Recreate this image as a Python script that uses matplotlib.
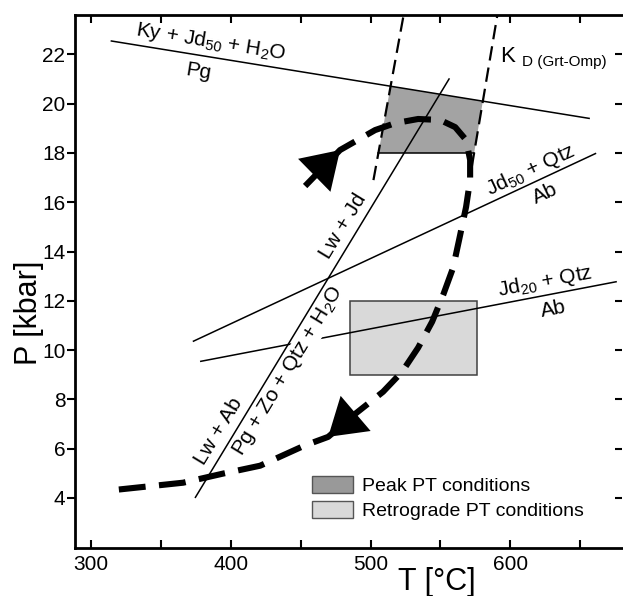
import numpy as np
import matplotlib
matplotlib.use("Agg")
import matplotlib.pyplot as plt
from matplotlib.patches import Polygon, Rectangle, Patch

plt.rcParams['font.family'] = ['Liberation Sans', 'DejaVu Sans']
plt.rcParams['mathtext.fontset'] = 'custom'
plt.rcParams['mathtext.rm'] = 'Liberation Sans'
plt.rcParams['mathtext.it'] = 'Liberation Sans:italic'
plt.rcParams['mathtext.bf'] = 'Liberation Sans:bold'

# ---------------- data ----------------
# reaction lines (T in degC, P in kbar)
ky_T = [314.0, 657.0]
ky_P = [22.55, 19.40]
lwjd_T = [374.4, 556.5]
lwjd_P = [4.00, 21.03]
jd50_T = [372.8, 661.5]
jd50_P = [10.35, 17.99]
jd20_T = [378.0, 676.3]
jd20_P = [9.54, 12.78]
# KD (Grt-Omp) isopleths
kdL_T = [502.1, 523.7]
kdL_P = [16.90, 23.60]
kdR_T = [572.5, 590.8]
kdR_P = [17.44, 23.60]
# peak PT field lower limit
peak_Pmin = 18.0
# retrograde PT field
retro_T = [485.0, 576.0]
retro_P = [9.0, 12.0]
# PT path
path_T = [453.2, 478.2, 503.3, 517.6, 534.1, 549.8, 560.6, 568.4, 571.3, 571.3,
          568.4, 563.4, 559.1, 552.0, 544.1, 534.1, 522.6, 509.0, 488.3, 469.7,
          452.5, 421.0, 394.5, 365.9, 319.3]
path_P = [16.66, 18.12, 18.93, 19.21, 19.38, 19.34, 19.05, 18.53, 17.72, 16.91,
          15.81, 14.47, 13.34, 12.24, 11.15, 10.10, 9.12, 8.31, 7.38, 6.48,
          6.12, 5.31, 4.99, 4.62, 4.34]
# arrows (base -> tip)
arrow_up = [(459.3, 17.07), (478.2, 18.12)]
arrow_down = [(488.3, 7.38), (469.7, 6.48)]

x_ticks = [300, 350, 400, 450, 500, 550, 600, 650]
x_ticklabels = ['300', '', '400', '', '500', '', '600', '']
y_ticks = [4, 6, 8, 10, 12, 14, 16, 18, 20, 22]

# ---------------- figure ----------------
W, H = 623, 596
fig = plt.figure(figsize=(W / 100, H / 100), dpi=100)
ax = fig.add_axes([75 / W, 1 - 548 / H, (622 - 75) / W, (548 - 15) / H])
ax.set_xlim(288.5, 680.0)
ax.set_ylim(1.97, 23.6)

def intersect(a_T, a_P, b_T, b_P):
    # intersection of two straight lines given by two points each
    p = np.array([a_T[0], a_P[0]]); r = np.array([a_T[1] - a_T[0], a_P[1] - a_P[0]])
    q = np.array([b_T[0], b_P[0]]); s = np.array([b_T[1] - b_T[0], b_P[1] - b_P[0]])
    t = np.cross(q - p, s) / np.cross(r, s)
    return p + t * r

def at_P(l_T, l_P, P):
    return l_T[0] + (P - l_P[0]) * (l_T[1] - l_T[0]) / (l_P[1] - l_P[0])

# peak field polygon bounded by KD lines, Ky line and P minimum
tl = intersect(kdL_T, kdL_P, ky_T, ky_P)
tr = intersect(kdR_T, kdR_P, ky_T, ky_P)
bl = (at_P(kdL_T, kdL_P, peak_Pmin), peak_Pmin)
br = (at_P(kdR_T, kdR_P, peak_Pmin), peak_Pmin)
peak_color = '#a3a3a3'
retro_color = '#d9d9d9'
ax.add_patch(Polygon([tl, tr, br, bl], closed=True, facecolor=peak_color,
                     edgecolor='none', zorder=1))
ax.plot([bl[0], br[0]], [bl[1], br[1]], color='black', lw=1.1, zorder=2)
ax.add_patch(Rectangle((retro_T[0], retro_P[0]), retro_T[1] - retro_T[0],
                       retro_P[1] - retro_P[0], facecolor=retro_color,
                       edgecolor='#404040', lw=1.1, zorder=1))

thin = dict(color='black', lw=1.1, zorder=3, solid_capstyle='butt')
for lt, lp in [(ky_T, ky_P), (lwjd_T, lwjd_P), (jd50_T, jd50_P), (jd20_T, jd20_P)]:
    ax.plot(lt, lp, **thin)
for lt, lp in [(kdL_T, kdL_P), (kdR_T, kdR_P)]:
    ax.plot(lt, lp, color='black', lw=1.6, ls=(0, (6.5, 3.2)), zorder=3)

# PT path
ax.plot(path_T, path_P, color='black', lw=4.4, ls=(0, (4.4, 2.2)), zorder=4,
        dash_capstyle='butt')
for base, tip in [arrow_up, arrow_down]:
    ax.annotate('', xy=tip, xytext=base,
                arrowprops=dict(arrowstyle='-|>,head_length=0.5,head_width=0.32',
                                mutation_scale=52, color='black', lw=0,
                                shrinkA=0, shrinkB=0), zorder=5)

def ang(lt, lp):
    return np.degrees(np.arctan2(lp[1] - lp[0], lt[1] - lt[0]))

fs = 15
def label(T, P, s, lt, lp, bg=False, size=fs):
    kw = {}
    if bg:
        kw['bbox'] = dict(facecolor='white', edgecolor='none', pad=0.5)
    ax.text(T, P, s, rotation=ang(lt, lp), transform_rotates_text=True,
            rotation_mode='anchor', ha='center', va='center', fontsize=size,
            zorder=6, **kw)

label(385.9, 22.50, r'Ky + Jd$_{50}$ + H$_2$O', ky_T, ky_P)
label(376.6, 21.28, 'Pg', ky_T, ky_P)
label(480.4, 15.02, 'Lw + Jd', lwjd_T, lwjd_P)
label(391.6, 6.69, 'Lw + Ab', lwjd_T, lwjd_P)
label(441.0, 9.16, r'Pg + Zo + Qtz + H$_2$O', lwjd_T, lwjd_P, bg=True)
label(615.0, 17.31, r'Jd$_{50}$ + Qtz', jd50_T, jd50_P)
label(625.0, 16.33, 'Ab', jd50_T, jd50_P)
label(625.0, 12.78, r'Jd$_{20}$ + Qtz', jd20_T, jd20_P)
label(630.7, 11.68, 'Ab', jd20_T, jd20_P)

ax.text(592.8, 21.69, 'K', fontsize=16, ha='left', va='baseline', zorder=6)
ax.text(608.5, 21.52, 'D (Grt-Omp)', fontsize=11, ha='left', va='baseline', zorder=6)

# axes styling
for side in ['top', 'bottom', 'left']:
    ax.spines[side].set_linewidth(2.0)
ax.spines['right'].set_visible(False)
ax.set_xticks(x_ticks)
ax.set_xticklabels(x_ticklabels)
ax.set_yticks(y_ticks)
ax.tick_params(axis='x', which='both', direction='in', top=True, bottom=True,
               length=6, width=1.5, labelsize=15, pad=5)
ax.tick_params(axis='y', which='both', direction='out', left=True, right=False,
               length=5.5, width=1.5, labelsize=15, pad=1.5)
sec = ax.secondary_yaxis('right')
sec.set_yticks(y_ticks)
sec.set_yticklabels([])
sec.tick_params(direction='in', length=5, width=1.5)
sec.spines['right'].set_visible(False)

ax.text(0.662, -0.078, 'T [°C]', transform=ax.transAxes, fontsize=22,
        ha='center', va='baseline')
ax.text(-0.084, 0.441, 'P [kbar]', transform=ax.transAxes, fontsize=22,
        rotation=90, ha='center', va='center')

handles = [Patch(facecolor='#999999', edgecolor='#555555', lw=1.0, label='Peak PT conditions'),
           Patch(facecolor=retro_color, edgecolor='#555555', lw=1.0, label='Retrograde PT conditions')]
ax.legend(handles=handles, loc='upper left', bbox_to_anchor=(0.4327, 0.135),
          frameon=False, fontsize=14, handlelength=2.1, handleheight=0.95,
          handletextpad=0.5, labelspacing=0.32, borderpad=0, borderaxespad=0)

fig.savefig('out.png', dpi=100)
